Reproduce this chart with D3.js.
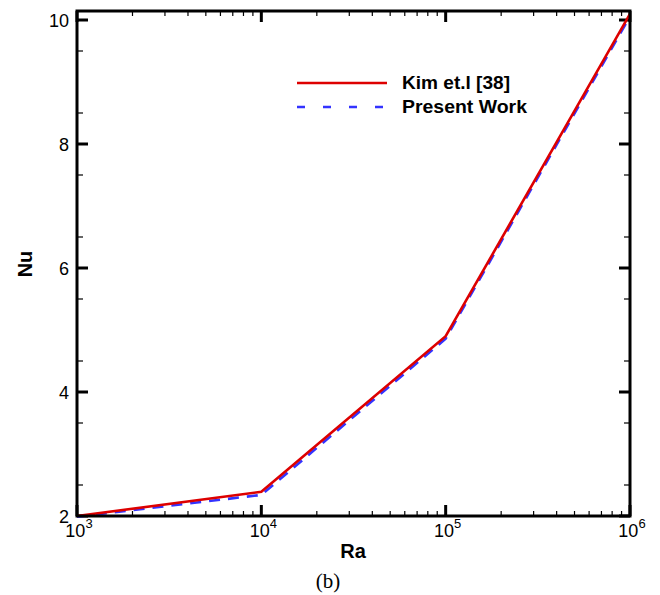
<!DOCTYPE html>
<html>
  <head>
    <meta charset="UTF-8">
    <script src="https://d3js.org/d3.v7.min.js"></script>
    <style>
      body { margin: 0; background: #fff; }
      text { font-family: "Liberation Sans", Arial, sans-serif; }
    </style>
  </head>
  <body>
    <svg id="chart" width="660" height="595"></svg>
    <script type="text/javascript">
      // data
      var ra = [1e3, 1e4, 1e5, 1e6];
      var kim = [2.0, 2.39, 4.9, 10.1];
      var present = [1.99, 2.34, 4.86, 10.06];
      var yTicks = [2, 4, 6, 8, 10];
      var xTicks = [1e3, 1e4, 1e5, 1e6];
      var xExp = ['3', '4', '5', '6'];
      var legendNames = ['Kim et.l [38]', 'Present Work'];

      var svg = d3.select('#chart');
      var L = 77, R = 630, T = 11, B = 516;

      var x = d3.scaleLog().domain([1e3, 1e6]).range([L, R]);
      var y = d3.scaleLinear().domain([2, 10]).range([B, 20]);

      var minorX = [];
      [1e3, 1e4, 1e5].forEach(function(d) {
        for (var k = 2; k < 10; k++) minorX.push(d * k);
      });
      var minorY = d3.range(2.5, 10.01, 1);

      // ticks on all four sides, pointing inward
      var g = svg.append('g').attr('stroke', '#000');
      function vtick(v, len, w) {
        g.append('line').attr('x1', x(v)).attr('x2', x(v)).attr('y1', B).attr('y2', B - len).attr('stroke-width', w);
        g.append('line').attr('x1', x(v)).attr('x2', x(v)).attr('y1', T).attr('y2', T + len).attr('stroke-width', w);
      }
      function htick(v, len, w) {
        g.append('line').attr('y1', y(v)).attr('y2', y(v)).attr('x1', L).attr('x2', L + len).attr('stroke-width', w);
        g.append('line').attr('y1', y(v)).attr('y2', y(v)).attr('x1', R).attr('x2', R - len).attr('stroke-width', w);
      }
      minorX.forEach(function(v) { vtick(v, 5, 1.2); });
      minorY.forEach(function(v) { htick(v, 6, 1.2); });
      xTicks.forEach(function(v) { vtick(v, 11, 3); });
      yTicks.forEach(function(v) { htick(v, 11, 3); });

      var line = d3.line()
        .x(function(d) { return x(d[0]); })
        .y(function(d) { return y(d[1]); });

      svg.append('path')
        .datum(d3.zip(ra, present))
        .attr('d', line)
        .attr('fill', 'none')
        .attr('stroke', '#3333ff')
        .attr('stroke-width', 2.6)
        .attr('stroke-dasharray', '11,8');

      svg.append('path')
        .datum(d3.zip(ra, kim))
        .attr('d', line)
        .attr('fill', 'none')
        .attr('stroke', '#dd0000')
        .attr('stroke-width', 2.6);

      // frame
      svg.append('rect')
        .attr('x', L).attr('y', T)
        .attr('width', R - L).attr('height', B - T)
        .attr('fill', 'none').attr('stroke', '#000').attr('stroke-width', 3);

      // y tick labels
      svg.selectAll('.ylab').data(yTicks).enter().append('text')
        .attr('x', L - 8).attr('y', function(d) { return y(d) + 6.5; })
        .attr('text-anchor', 'end').attr('font-size', 18)
        .text(function(d) { return d; });

      // x tick labels 10^n
      xTicks.forEach(function(v, i) {
        var t = svg.append('text')
          .attr('x', x(v) + 2).attr('y', 537)
          .attr('text-anchor', 'middle').attr('font-size', 18);
        t.append('tspan').text('10');
        t.append('tspan').attr('dy', -9).attr('font-size', 13).text(xExp[i]);
      });

      svg.append('text')
        .attr('x', 353).attr('y', 558).attr('text-anchor', 'middle')
        .attr('font-size', 20).attr('font-weight', 'bold').text('Ra');

      svg.append('text')
        .attr('transform', 'translate(32,264) rotate(-90)')
        .attr('text-anchor', 'middle')
        .attr('font-size', 20).attr('font-weight', 'bold').text('Nu');

      svg.append('text')
        .attr('x', 328).attr('y', 588).attr('text-anchor', 'middle')
        .style('font-family', '"Liberation Serif", "Times New Roman", serif')
        .attr('font-size', 21).text('(b)');

      // legend
      var lg = svg.append('g');
      lg.append('line').attr('x1', 297).attr('x2', 387).attr('y1', 83).attr('y2', 83)
        .attr('stroke', '#dd0000').attr('stroke-width', 2.6);
      lg.append('line').attr('x1', 297).attr('x2', 387).attr('y1', 107).attr('y2', 107)
        .attr('stroke', '#3333ff').attr('stroke-width', 2.6).attr('stroke-dasharray', '8,18');
      lg.selectAll('text').data(legendNames).enter().append('text')
        .attr('x', 402).attr('y', function(d, i) { return 89 + i * 24; })
        .attr('font-size', 18).attr('font-weight', 'bold')
        .attr('textLength', function(d, i) { return i ? 125 : 108; })
        .attr('lengthAdjust', 'spacingAndGlyphs')
        .text(function(d) { return d; });
    </script>
  </body>
</html>
